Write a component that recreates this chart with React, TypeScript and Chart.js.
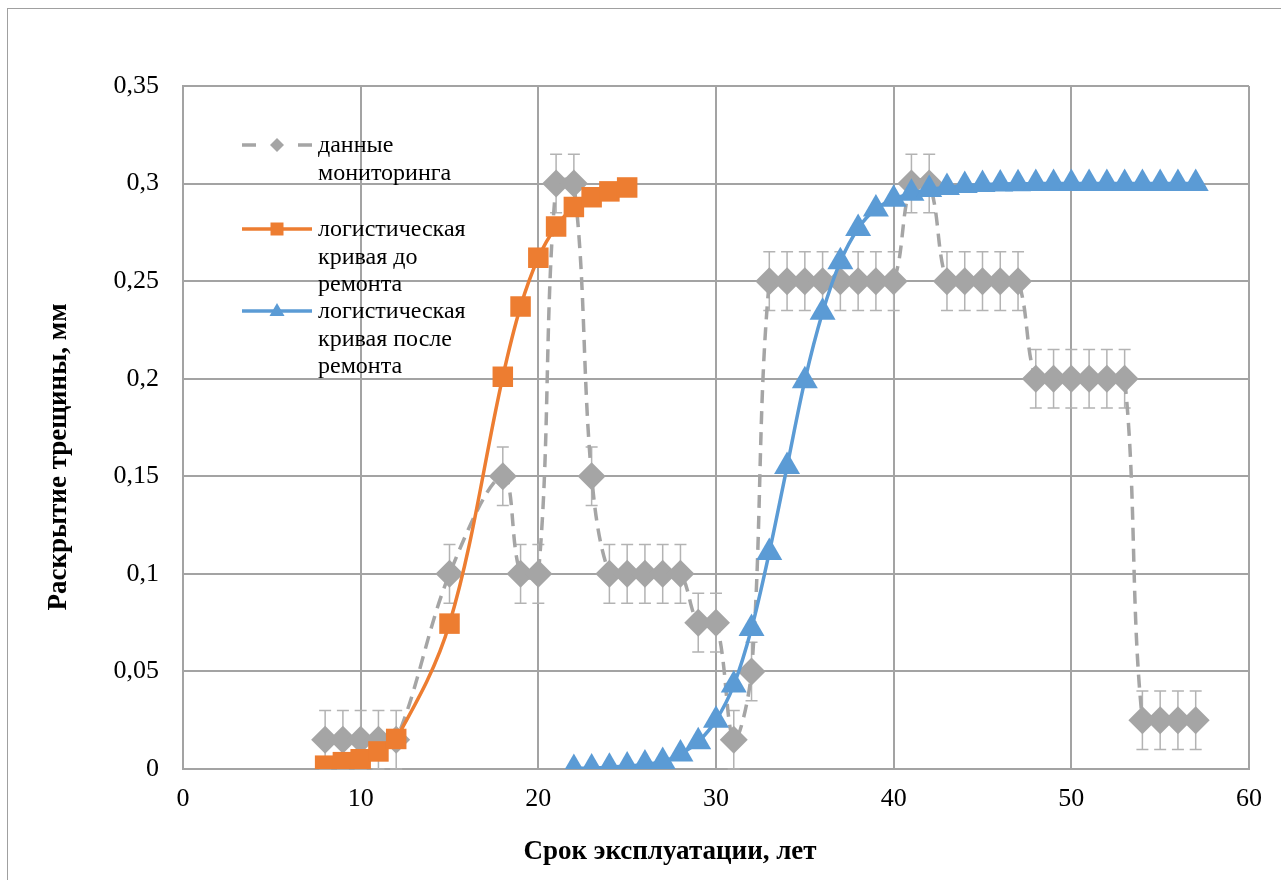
import React, { useEffect, useRef } from "react";
import { Chart, registerables } from "chart.js";

Chart.register(...registerables);

// ---- data ----
const monitoringX = [8, 9, 10, 11, 12, 15, 18, 19, 20, 21, 22, 23, 24, 25, 26, 27, 28, 29, 30, 31, 32, 33, 34, 35, 36, 37, 38, 39, 40, 41, 42, 43, 44, 45, 46, 47, 48, 49, 50, 51, 52, 53, 54, 55, 56, 57];
const monitoringY = [0.015, 0.015, 0.015, 0.015, 0.015, 0.1, 0.15, 0.1, 0.1, 0.3, 0.3, 0.15, 0.1, 0.1, 0.1, 0.1, 0.1, 0.075, 0.075, 0.015, 0.05, 0.25, 0.25, 0.25, 0.25, 0.25, 0.25, 0.25, 0.25, 0.3, 0.3, 0.25, 0.25, 0.25, 0.25, 0.25, 0.2, 0.2, 0.2, 0.2, 0.2, 0.2, 0.025, 0.025, 0.025, 0.025];
const monitoringError = 0.015;

const beforeX = [8, 9, 10, 11, 12, 15, 18, 19, 20, 21, 22, 23, 24, 25];
const beforeY = [0.0017, 0.0035, 0.005, 0.009, 0.0154, 0.0745, 0.201, 0.237, 0.262, 0.278, 0.288, 0.293, 0.296, 0.298];

const afterX = [22, 23, 24, 25, 26, 27, 28, 29, 30, 31, 32, 33, 34, 35, 36, 37, 38, 39, 40, 41, 42, 43, 44, 45, 46, 47, 48, 49, 50, 51, 52, 53, 54, 55, 56, 57];
const afterY = [0.0003, 0.0005, 0.0009, 0.0015, 0.0025, 0.0038, 0.0077, 0.014, 0.025, 0.043, 0.072, 0.111, 0.155, 0.199, 0.234, 0.26, 0.277, 0.287, 0.292, 0.295, 0.297, 0.298, 0.299, 0.2995, 0.2998, 0.2999, 0.3, 0.3, 0.3, 0.3, 0.3, 0.3, 0.3, 0.3, 0.3, 0.3];

const legendLabels = [
  ["данные", "мониторинга"],
  ["логистическая", "кривая до", "ремонта"],
  ["логистическая", "кривая после", "ремонта"],
];
const xTitle = "Срок эксплуатации, лет";
const yTitle = "Раскрытие трещины, мм";

const GRAY = "#a5a5a5";
const ORANGE = "#ed7d31";
const BLUE = "#5b9bd5";
const SERIF = "'Liberation Serif', 'Times New Roman', serif";

const toPoints = (xs: number[], ys: number[]) => xs.map((x, i) => ({ x, y: ys[i] }));

const decorPlugin = {
  id: "decor",
  beforeDatasetsDraw(chart: any) {
    const ctx = chart.ctx;
    const xs = chart.scales.x;
    const ys = chart.scales.y;
    ctx.save();
    ctx.strokeStyle = "#b3b3b3";
    ctx.lineWidth = 1.5;
    monitoringX.forEach((x, i) => {
      const px = xs.getPixelForValue(x);
      const top = ys.getPixelForValue(monitoringY[i] + monitoringError);
      const bot = ys.getPixelForValue(monitoringY[i] - monitoringError);
      ctx.beginPath();
      ctx.moveTo(px, top);
      ctx.lineTo(px, bot);
      ctx.moveTo(px - 6, top);
      ctx.lineTo(px + 6, top);
      ctx.moveTo(px - 6, bot);
      ctx.lineTo(px + 6, bot);
      ctx.stroke();
    });
    ctx.restore();
  },
  afterDraw(chart: any) {
    const ctx = chart.ctx;
    ctx.save();
    // outer frame
    ctx.strokeStyle = "#a0a0a0";
    ctx.lineWidth = 1;
    ctx.strokeRect(7.5, 8.5, 3000, 3000);

    // axis titles
    ctx.fillStyle = "#000";
    ctx.font = `bold 27px ${SERIF}`;
    ctx.textAlign = "center";
    ctx.textBaseline = "middle";
    ctx.fillText(xTitle, 670, 852);
    ctx.save();
    ctx.translate(59, 457);
    ctx.rotate(-Math.PI / 2);
    ctx.fillText(yTitle, 0, 0);
    ctx.restore();

    // legend
    const lx0 = 242, lx1 = 312, mx = 277, tx = 318;
    const entries = [
      { y: 145, lines: legendLabels[0], color: GRAY, dash: [9, 7], marker: "diamond" },
      { y: 229, lines: legendLabels[1], color: ORANGE, dash: [], marker: "square" },
      { y: 311, lines: legendLabels[2], color: BLUE, dash: [], marker: "triangle" },
    ];
    ctx.font = `24px ${SERIF}`;
    ctx.textAlign = "left";
    ctx.textBaseline = "middle";
    entries.forEach((e) => {
      ctx.strokeStyle = e.color;
      ctx.lineWidth = 3.5;
      ctx.beginPath();
      if (e.dash.length) {
        ctx.moveTo(lx0, e.y); ctx.lineTo(lx0 + 14, e.y);
        ctx.moveTo(lx1 - 14, e.y); ctx.lineTo(lx1, e.y);
      } else {
        ctx.moveTo(lx0, e.y); ctx.lineTo(lx1, e.y);
      }
      ctx.stroke();
      ctx.fillStyle = e.color;
      ctx.beginPath();
      if (e.marker === "diamond") {
        ctx.moveTo(mx - 7, e.y); ctx.lineTo(mx, e.y - 7); ctx.lineTo(mx + 7, e.y); ctx.lineTo(mx, e.y + 7);
      } else if (e.marker === "square") {
        ctx.rect(mx - 6.5, e.y - 6.5, 13, 13);
      } else {
        ctx.moveTo(mx, e.y - 8); ctx.lineTo(mx + 7.5, e.y + 5); ctx.lineTo(mx - 7.5, e.y + 5);
      }
      ctx.closePath();
      ctx.fill();
      ctx.fillStyle = "#000";
      e.lines.forEach((t, k) => ctx.fillText(t, tx, e.y + 1 + k * 27.5));
    });
    ctx.restore();
  },
};

export default function App() {
  const ref = useRef<HTMLCanvasElement | null>(null);
  useEffect(() => {
    if (!ref.current) return;
    const chart = new Chart(ref.current, {
      type: "line",
      data: {
        datasets: [
          {
            label: legendLabels[0].join(" "),
            data: toPoints(monitoringX, monitoringY),
            borderColor: GRAY,
            backgroundColor: GRAY,
            borderWidth: 3.5,
            borderDash: [13, 8],
            tension: 0.35,
            pointStyle: "rectRot",
            pointRadius: 14,
            pointBorderWidth: 0,
            order: 3,
          },
          {
            label: legendLabels[1].join(" "),
            data: toPoints(beforeX, beforeY),
            borderColor: ORANGE,
            backgroundColor: ORANGE,
            borderWidth: 3.5,
            tension: 0.35,
            pointStyle: "rect",
            pointRadius: 14.5,
            pointBorderWidth: 0,
            order: 2,
          },
          {
            label: legendLabels[2].join(" "),
            data: toPoints(afterX, afterY),
            borderColor: BLUE,
            backgroundColor: BLUE,
            borderWidth: 3.5,
            tension: 0.35,
            pointStyle: "triangle",
            pointRadius: 15,
            pointBorderWidth: 0,
            order: 1,
          },
        ],
      },
      options: {
        animation: false,
        responsive: false,
        events: [],
        layout: { padding: { left: 0, top: 86, right: 32, bottom: 0 } },
        plugins: { legend: { display: false }, tooltip: { enabled: false } },
        scales: {
          x: {
            type: "linear",
            min: 0,
            max: 60,
            ticks: {
              stepSize: 10,
              padding: 15,
              color: "#000",
              font: { family: SERIF, size: 26 },
              maxRotation: 0,
            },
            grid: { color: "#a3a3a3", lineWidth: 2, drawTicks: false },
            border: { color: "#a3a3a3", width: 2 },
            afterFit: (s: any) => { s.height = 111; },
          },
          y: {
            type: "linear",
            min: 0,
            max: 0.35,
            ticks: {
              stepSize: 0.05,
              padding: 24,
              color: "#000",
              font: { family: SERIF, size: 26 },
              callback: (v: any) => Number(Number(v).toFixed(2)).toString().replace(".", ","),
            },
            grid: { color: "#a3a3a3", lineWidth: 2, drawTicks: false },
            border: { color: "#a3a3a3", width: 2 },
            afterFit: (s: any) => { s.width = 183; },
          },
        },
      },
      plugins: [decorPlugin],
    } as any);
    return () => chart.destroy();
  }, []);
  return (
    <div style={{ position: "absolute", left: 0, top: 0, width: 1281, height: 880, background: "#fff" }}>
      <canvas ref={ref} width={1281} height={880} style={{ display: "block" }} />
    </div>
  );
}
